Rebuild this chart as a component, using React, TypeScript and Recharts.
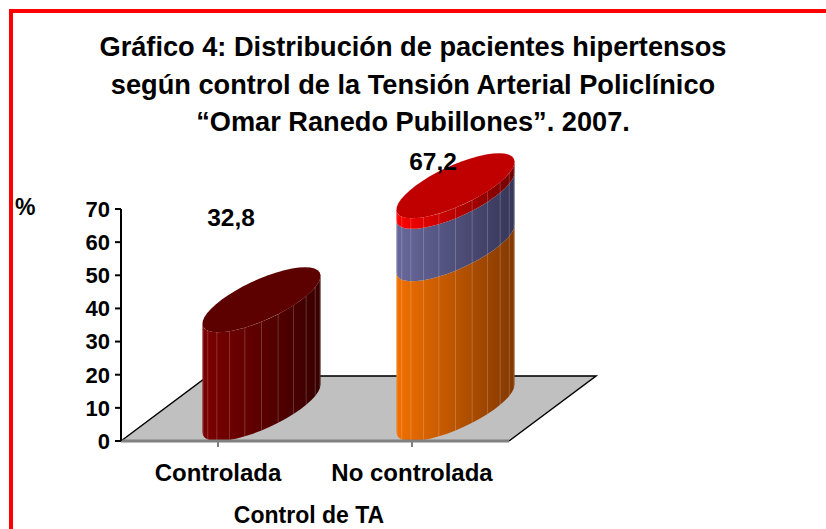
import { BarChart, Bar, XAxis, YAxis, LabelList, usePlotArea } from "recharts";

const categories = ["Controlada", "No controlada"];
const controlada = [32.8, 0];
const naranja = [0, 48.2];
const azul = [0, 15.8];
const rojo = [0, 3.2];
const totales = [32.8, 67.2];
const yTicks = [0, 10, 20, 30, 40, 50, 60, 70];
const titulo = [
  "Gráfico 4: Distribución de pacientes hipertensos",
  "según control de la Tensión Arterial Policlínico",
  "“Omar Ranedo Pubillones”. 2007.",
];

const data = categories.map((name, i) => ({
  name,
  controlada: controlada[i],
  naranja: naranja[i],
  azul: azul[i],
  rojo: rojo[i],
  total: totales[i],
}));

const FONT = "'Liberation Sans', Arial, sans-serif";
// fake 3D: how far the floor recedes, in pixels
const DEPTH_X = 87;
const DEPTH_Y = 65;
const FACETS = 22;
const t0 = Math.atan2(DEPTH_X / 2, 40);

function ring(cx: number, cy: number, a: number, from: number, to: number, n: number) {
  const pts: number[][] = [];
  for (let i = 0; i <= n; i++) {
    const t = from + ((to - from) * i) / n;
    pts.push([cx + a * Math.cos(t) + (DEPTH_X / 2) * Math.sin(t), cy - (DEPTH_Y / 2) * Math.sin(t)]);
  }
  return pts;
}

const toPoints = (pts: number[][]) => pts.map((p) => p.join(",")).join(" ");

function Cylinder(props: any) {
  const { x, y, width, height, gradient, cap } = props;
  if (!height || height < 0.5) return null;
  const a = width / 2;
  const cx = x + a + DEPTH_X / 2;
  const bottom = y + height - DEPTH_Y / 2;
  const top = y - DEPTH_Y / 2;
  const low = ring(cx, bottom, a, t0 - Math.PI, t0, FACETS);
  const high = ring(cx, top, a, t0 - Math.PI, t0, FACETS);
  return (
    <g>
      <polygon points={toPoints([...low, ...[...high].reverse()])} fill={`url(#${gradient})`} />
      {low.map((p, i) =>
        i > 0 && i < FACETS && i % 2 === 1 ? (
          <line key={i} x1={p[0]} y1={p[1]} x2={high[i][0]} y2={high[i][1]} stroke="#fff" strokeOpacity={0.2} strokeWidth={1} />
        ) : null
      )}
      {cap ? <polygon points={toPoints(ring(cx, top, a, 0, Math.PI * 2, FACETS * 2))} fill={cap} /> : null}
    </g>
  );
}

function Floor() {
  const plot = usePlotArea();
  if (!plot) return null;
  const x0 = plot.x;
  const x1 = plot.x + plot.width;
  const y0 = plot.y + plot.height;
  const y1 = y0 - DEPTH_Y;
  return (
    <g>
      <polygon points={`${x0},${y0} ${x1},${y0} ${x1 + DEPTH_X},${y1} ${x0 + DEPTH_X},${y1}`} fill="#c0c0c0" />
      <polyline points={`${x0},${y0} ${x0 + DEPTH_X},${y1} ${x1 + DEPTH_X},${y1} ${x1},${y0}`} fill="none" stroke="#000" strokeWidth={1.5} />
    </g>
  );
}

// the back edge of the floor shows faintly through the cylinders
function BackEdge() {
  const plot = usePlotArea();
  if (!plot) return null;
  const y1 = plot.y + plot.height - DEPTH_Y;
  return <line x1={plot.x + DEPTH_X} y1={y1} x2={plot.x + plot.width + DEPTH_X} y2={y1} stroke="#000" strokeOpacity={0.25} />;
}

function Headings() {
  return (
    <g fontFamily={FONT} fontWeight="bold" fill="#000">
      {titulo.map((line, i) => (
        <text key={i} x={413} y={56 + i * 37.7} textAnchor="middle" fontSize={27.2}>
          {line}
        </text>
      ))}
      <text x={15} y={215} fontSize={23}>%</text>
    </g>
  );
}

const decimal = (v: any) => String(v).replace(".", ",");

export default function App() {
  return (
    <div style={{ position: "absolute", left: 0, top: 0, width: 826, height: 529, overflow: "hidden", background: "#fff" }}>
      <div style={{ position: "absolute", left: 9, top: 9, width: 900, height: 600, borderLeft: "4px solid #ff0000", borderTop: "4px solid #ff0000" }} />
      <div style={{ position: "absolute", left: 0, top: 0 }}>
        <BarChart
          width={826}
          height={529}
          data={data}
          margin={{ top: 209, right: 317, bottom: 28, left: 61 }}
          barSize={80}
        >
          <defs>
            <linearGradient id="gCtrl" x1="0" y1="0" x2="1" y2="0">
              <stop offset="0" stopColor="#7c0000" />
              <stop offset="1" stopColor="#380000" />
            </linearGradient>
            <linearGradient id="gOrange" x1="0" y1="0" x2="1" y2="0">
              <stop offset="0" stopColor="#f27000" />
              <stop offset="1" stopColor="#823800" />
            </linearGradient>
            <linearGradient id="gBlue" x1="0" y1="0" x2="1" y2="0">
              <stop offset="0" stopColor="#68689c" />
              <stop offset="1" stopColor="#363658" />
            </linearGradient>
            <linearGradient id="gRed" x1="0" y1="0" x2="1" y2="0">
              <stop offset="0" stopColor="#ff0000" />
              <stop offset="1" stopColor="#700000" />
            </linearGradient>
          </defs>
          <Floor />
          <XAxis
            dataKey="name"
            interval={0}
            height={60}
            tickSize={6}
            tickMargin={17}
            axisLine={{ stroke: "#808080", strokeWidth: 3 }}
            tickLine={{ stroke: "#808080", strokeWidth: 2 }}
            tick={{ fill: "#000", fontFamily: FONT, fontWeight: "bold", fontSize: 24 }}
            label={{ value: "Control de TA", position: "insideBottom", offset: -22, dx: -6, fill: "#000", fontFamily: FONT, fontWeight: "bold", fontSize: 23 }}
          />
          <YAxis
            width={60}
            domain={[0, 70]}
            ticks={yTicks}
            interval={0}
            tickSize={6}
            tickMargin={5}
            axisLine={{ stroke: "#000", strokeWidth: 2 }}
            tickLine={{ stroke: "#000", strokeWidth: 2 }}
            tick={{ fill: "#000", fontFamily: FONT, fontWeight: "bold", fontSize: 22 }}
          />
          <Bar
            dataKey="controlada"
            stackId="a"
            isAnimationActive={false}
            shape={(p: any) => <Cylinder {...p} gradient="gCtrl" cap="#5c0000" />}
          >
            <LabelList
              dataKey="total"
              content={(p: any) =>
                p.index === 0 ? (
                  <text x={231} y={226} textAnchor="middle" fontFamily={FONT} fontWeight="bold" fontSize={24.5} fill="#000">
                    {decimal(p.value)}
                  </text>
                ) : null
              }
            />
          </Bar>
          <Bar dataKey="naranja" stackId="a" isAnimationActive={false} shape={(p: any) => <Cylinder {...p} gradient="gOrange" />} />
          <Bar dataKey="azul" stackId="a" isAnimationActive={false} shape={(p: any) => <Cylinder {...p} gradient="gBlue" />} />
          <Bar
            dataKey="rojo"
            stackId="a"
            isAnimationActive={false}
            shape={(p: any) => <Cylinder {...p} gradient="gRed" cap="#c00000" />}
          >
            <LabelList
              dataKey="total"
              content={(p: any) =>
                p.index === 1 ? (
                  <text x={433} y={170} textAnchor="middle" fontFamily={FONT} fontWeight="bold" fontSize={24.5} fill="#000">
                    {decimal(p.value)}
                  </text>
                ) : null
              }
            />
          </Bar>
          <BackEdge />
          <Headings />
        </BarChart>
      </div>
    </div>
  );
}
